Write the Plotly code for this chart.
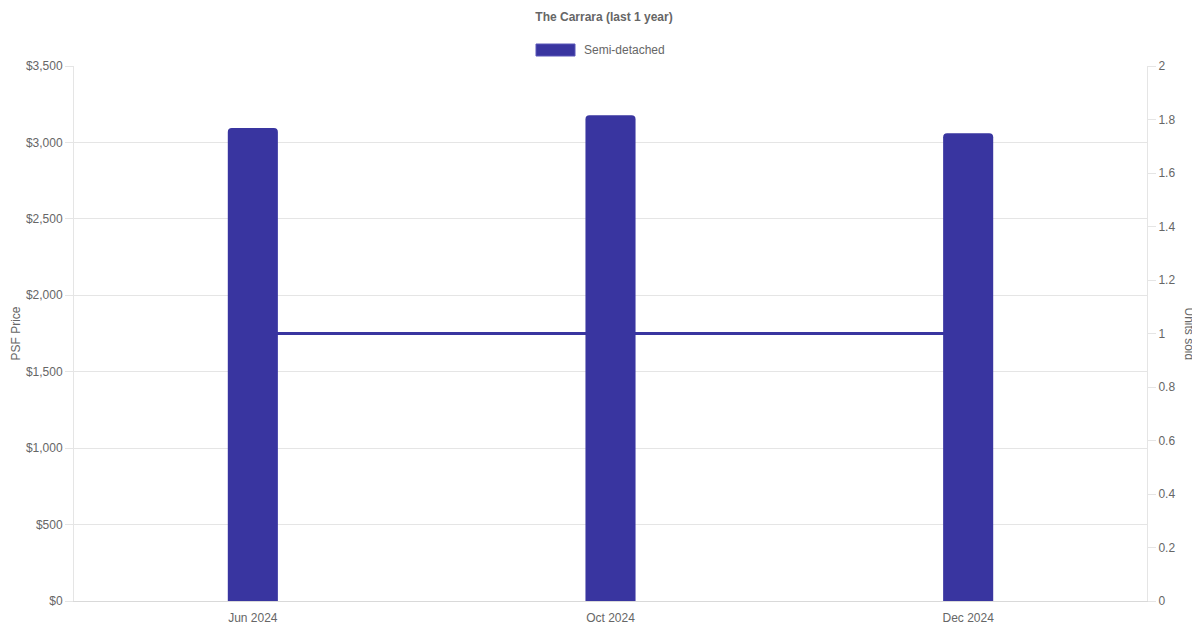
import plotly.graph_objects as go

# data
months = ["Jun 2024", "Oct 2024", "Dec 2024"]
psf_price = [3094, 3177, 3060]
units_sold = [1, 1, 1]

bar_color = "#3935a0"
grey = "#666666"
grid = "#e5e5e5"

# the page puts the figure 8px in from the top-left corner
W, H = 1192, 622

fig = go.Figure()

# line first on the main axis so the bars (overlay axis) sit on top of it
fig.add_trace(go.Scatter(
    x=months, y=units_sold, mode="lines", name="Units sold",
    line=dict(color=bar_color, width=3), yaxis="y", showlegend=False,
))
fig.add_trace(go.Bar(
    x=months, y=psf_price, name="Semi-detached",
    marker=dict(color=bar_color, cornerradius=4, line=dict(width=0)),
    width=0.14, yaxis="y2", showlegend=False,
))

fig.update_layout(
    width=W, height=H,
    margin=dict(l=66, r=53, t=58, b=29, autoexpand=False),
    paper_bgcolor="white", plot_bgcolor="white",
    font=dict(family="Liberation Sans, Arial, sans-serif", size=12, color=grey),
    title=dict(text="<b>The Carrara (last 1 year)</b>", x=0.5, xanchor="center",
               y=1 - 9 / H, yanchor="middle", font=dict(size=12, color=grey)),
    xaxis=dict(showgrid=False, showline=True, linecolor="#d9d9d9", automargin=False,
               ticks="outside", ticklen=6, tickcolor="rgba(0,0,0,0)",
               tickfont=dict(size=12, color=grey)),
    yaxis=dict(side="right", range=[0, 2], dtick=0.2, showgrid=False, automargin=False,
               showline=True, linecolor=grid, ticks="outside", ticklen=8,
               tickcolor=grid, zeroline=False, tickfont=dict(size=12, color=grey)),
    yaxis2=dict(overlaying="y", side="left", range=[0, 3500], dtick=500, automargin=False,
                tickprefix="$", tickformat=",d", showgrid=True, gridcolor=grid,
                showline=True, linecolor=grid, ticks="outside", ticklen=8,
                tickcolor=grid, zeroline=False, tickfont=dict(size=12, color=grey)),
    showlegend=False,
)

# legend swatch and axis titles in the chart.js style (page pixel positions)
fig.add_shape(type="rect", xref="paper", yref="paper",
              x0=(536 - 74) / 1073, x1=(575 - 74) / 1073,
              y0=(601 - 56) / 535, y1=(601 - 44) / 535,
              fillcolor=bar_color, line=dict(color="#5a56b8", width=1))
fig.add_annotation(text="Semi-detached", xref="paper", yref="paper",
                   x=(582 - 74) / 1073, y=(601 - 50) / 535,
                   xanchor="left", yanchor="middle", showarrow=False,
                   font=dict(size=12, color=grey))
fig.add_annotation(text="PSF Price", xref="paper", yref="paper",
                   x=(15 - 74) / 1073, y=0.5, textangle=-90,
                   xanchor="center", yanchor="middle", showarrow=False,
                   font=dict(size=12, color=grey))
fig.add_annotation(text="Units sold", xref="paper", yref="paper",
                   x=(1189 - 74) / 1073, y=0.5, textangle=90,
                   xanchor="center", yanchor="middle", showarrow=False,
                   font=dict(size=12, color=grey))

fig.write_html("out.html")
